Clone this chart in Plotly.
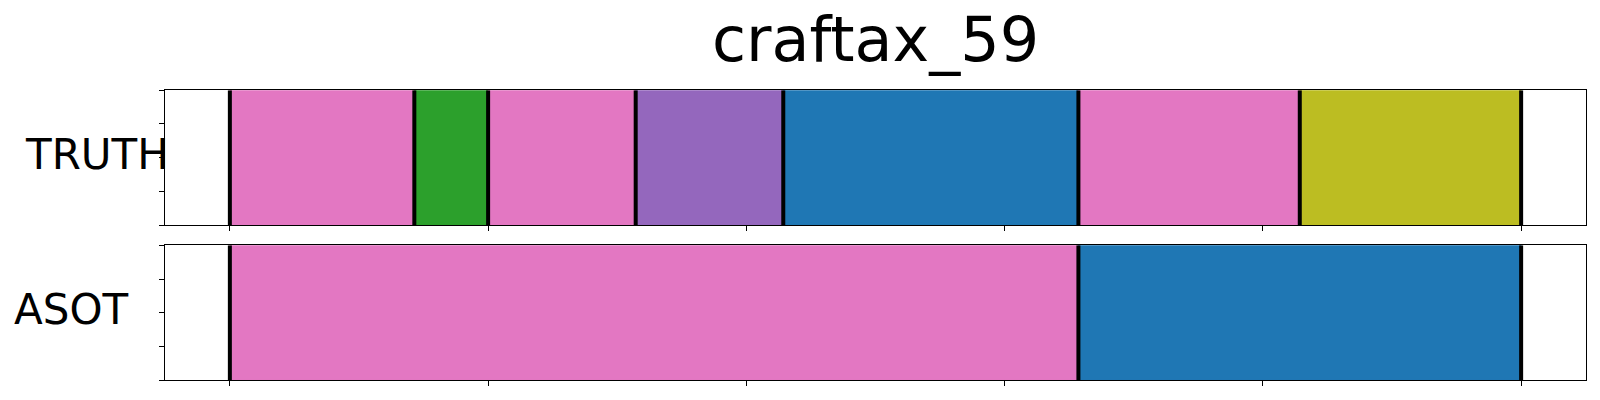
import plotly.graph_objects as go

# Data
title = "craftax_59"
row_labels = ["TRUTH", "ASOT"]
truth_bounds = [0, 5, 7, 11, 15, 23, 29, 35]
truth_colors = ["#e377c2", "#2ca02c", "#e377c2", "#9467bd", "#1f77b4", "#e377c2", "#bcbd22"]
asot_bounds = [0, 23, 35]
asot_colors = ["#e377c2", "#1f77b4"]
x_ticks = [0, 7, 14, 21, 28, 35]
y_ticks = [0, 0.25, 0.5, 0.75, 1.0]

W, H = 1600, 400
x_dom = [165.3 / W, 1585.7 / W]
top_dom = [(H - 225) / H, (H - 90.3) / H]
bot_dom = [(H - 380.3) / H, (H - 245.3) / H]

fig = go.Figure()


def add_row(bounds, colors, xa, ya):
    starts = bounds[:-1]
    lengths = [b - a for a, b in zip(bounds[:-1], bounds[1:])]
    fig.add_trace(go.Bar(
        x=lengths, base=starts, y=[0.5] * len(starts), orientation="h",
        width=1.0, marker=dict(color=colors, line=dict(color=colors, width=0.8)),
        xaxis=xa, yaxis=ya, showlegend=False, hoverinfo="skip"))
    lx, ly = [], []
    for b in bounds:
        lx += [b, b, None]
        ly += [0, 1, None]
    fig.add_trace(go.Scatter(
        x=lx, y=ly, mode="lines", line=dict(color="black", width=4),
        xaxis=xa, yaxis=ya, showlegend=False, hoverinfo="skip", cliponaxis=True))


add_row(truth_bounds, truth_colors, "x", "y")
add_row(asot_bounds, asot_colors, "x2", "y2")

xrange = [-0.05 * x_ticks[-1], 1.05 * x_ticks[-1]]
axis_common = dict(showline=True, linecolor="black", linewidth=1.1, mirror=True,
                   ticks="outside", ticklen=5, tickwidth=1.1, tickcolor="black",
                   showticklabels=False, showgrid=False, zeroline=False)

fig.update_layout(
    width=W, height=H,
    margin=dict(l=0, r=0, t=0, b=0),
    paper_bgcolor="white", plot_bgcolor="white",
    barmode="overlay",
    xaxis=dict(domain=x_dom, range=xrange, tickvals=x_ticks, anchor="y", **axis_common),
    yaxis=dict(domain=top_dom, range=[0, 1], tickvals=y_ticks, anchor="x", **axis_common),
    xaxis2=dict(domain=x_dom, range=xrange, tickvals=x_ticks, anchor="y2", **axis_common),
    yaxis2=dict(domain=bot_dom, range=[0, 1], tickvals=y_ticks, anchor="x2", **axis_common),
    annotations=[
        dict(text=title, x=875 / W, y=(H - 39) / H, xref="paper", yref="paper",
             xanchor="center", yanchor="middle", showarrow=False,
             font=dict(family="DejaVu Sans", size=62, color="black")),
        dict(text=row_labels[0], x=171 / W, y=(H - 155) / H, xref="paper", yref="paper",
             xanchor="right", yanchor="middle", showarrow=False,
             font=dict(family="DejaVu Sans", size=42, color="black")),
        dict(text=row_labels[1], x=12 / W, y=(H - 309) / H, xref="paper", yref="paper",
             xanchor="left", yanchor="middle", showarrow=False,
             font=dict(family="DejaVu Sans", size=42, color="black")),
    ],
)

fig.write_html("out.html", config={"displayModeBar": False},
               post_script="document.body.style.margin='0px';document.body.style.padding='0px';")
